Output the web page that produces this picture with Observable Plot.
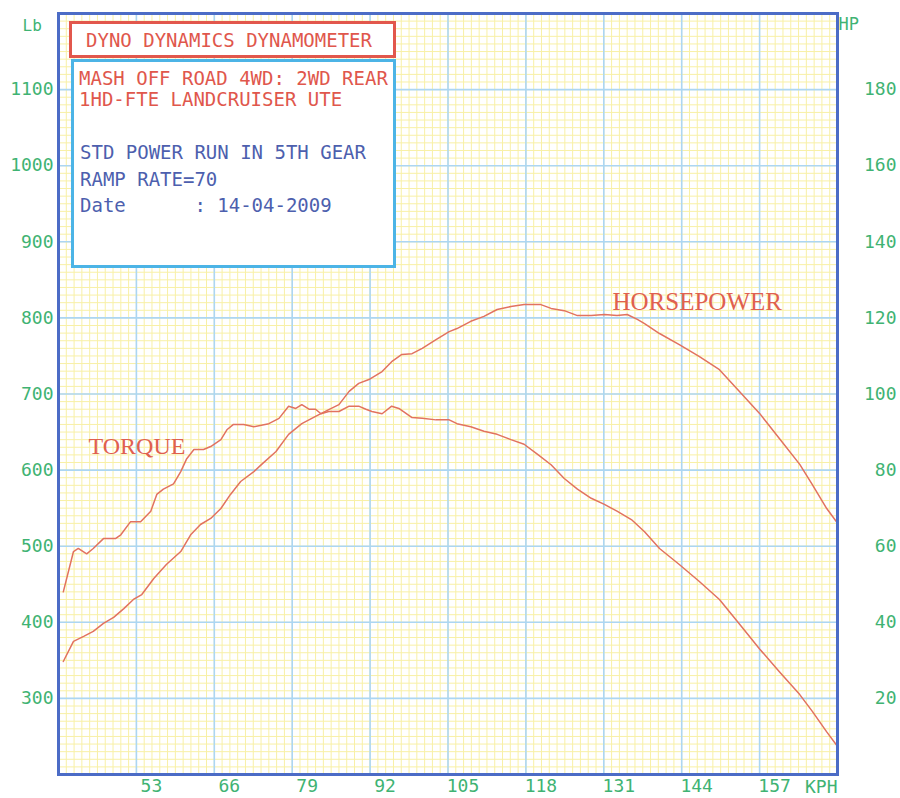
<!DOCTYPE html>
<html>
<head>
<meta charset="utf-8">
<script src="https://cdn.jsdelivr.net/npm/d3@7"></script>
<script src="https://cdn.jsdelivr.net/npm/@observablehq/plot@0.6"></script>
<style>
  body { margin: 0; background: #fff; }
  #wrap { position: relative; width: 900px; height: 798px; overflow: hidden; }
  .box { position: absolute; background: #fff; box-sizing: border-box; }
  .ln { position: absolute; font-family: "DejaVu Sans Mono", monospace; font-size: 19px; line-height: 19px; white-space: pre; }
  .red { color: #e0574c; }
  .blu { color: #4d5fae; }
</style>
</head>
<body>
<div id="wrap"></div>
<script>
// ---- data ----
const torqueKph = [40.8, 42.5, 43.3, 44.7, 45.8, 47.5, 49.5, 50.4, 52.0, 53.7, 55.4, 56.4, 57.5, 59.2, 60.4, 61.4, 62.6, 64.2, 65.4, 67.1, 68.1, 69.2, 70.9, 72.6, 75.1, 76.8, 78.4, 79.6, 80.6, 81.8, 82.9, 83.8, 85.1, 86.8, 88.5, 90.1, 91.3, 92.3, 94.0, 95.6, 96.8, 99.0, 100.7, 103.0, 105.2, 106.5, 108.8, 111.0, 113.2, 115.5, 117.7, 119.9, 122.2, 124.4, 126.6, 128.9, 131.1, 133.2, 135.6, 137.8, 140.3, 143.6, 146.9, 150.3, 153.6, 157.0, 160.3, 163.7, 165.8, 168.2, 169.8];
const torqueLb = [440, 493, 497, 490, 497, 510, 510, 515, 532, 532, 546, 568, 575, 582, 598, 615, 627, 627, 631, 640, 653, 660, 660, 657, 661, 668, 684, 681, 686, 680, 680, 674, 677, 677, 684, 684, 680, 677, 674, 684, 681, 669, 668, 666, 666, 661, 657, 651, 647, 640, 634, 621, 607, 589, 575, 563, 555, 546, 535, 519, 497, 476, 454, 430, 398, 365, 335, 305, 283, 256, 239];

const hpKph = [40.8, 42.5, 44.2, 45.8, 47.5, 49.2, 50.9, 52.5, 53.9, 55.9, 58.0, 60.4, 62.1, 63.7, 65.4, 67.1, 68.7, 70.4, 72.6, 73.9, 76.3, 78.4, 80.6, 82.9, 85.1, 86.8, 88.5, 90.1, 91.8, 94.0, 95.6, 97.3, 99.0, 100.7, 103.0, 105.2, 106.5, 108.8, 111.0, 113.2, 115.5, 117.7, 120.5, 122.2, 124.4, 126.6, 128.9, 131.1, 133.2, 134.9, 136.6, 137.8, 140.3, 143.6, 146.9, 150.3, 153.6, 157.0, 160.3, 163.7, 165.8, 168.2, 169.8];
const hpValue = [29.7, 35.0, 36.3, 37.6, 39.7, 41.3, 43.6, 46.0, 47.3, 51.5, 55.2, 58.6, 63.1, 65.7, 67.3, 69.9, 73.6, 77.0, 79.6, 81.5, 84.9, 89.4, 92.2, 94.1, 95.9, 97.2, 100.7, 102.8, 103.8, 105.9, 108.5, 110.4, 110.6, 112.0, 114.3, 116.4, 117.2, 119.1, 120.4, 122.2, 123.0, 123.5, 123.5, 122.5, 121.9, 120.6, 120.6, 120.9, 120.6, 120.9, 119.6, 118.5, 115.9, 113.0, 109.9, 106.4, 100.7, 94.9, 88.3, 81.5, 76.2, 69.9, 66.5];

const xTicks = [53, 66, 79, 92, 105, 118, 131, 144, 157];
const lbTicks = [300, 400, 500, 600, 700, 800, 900, 1000, 1100];
const hpTicks = [20, 40, 60, 80, 100, 120, 140, 160, 180];

const seriesLabels = ["TORQUE", "HORSEPOWER"];
const headerTitle = "DYNO DYNAMICS DYNAMOMETER";
const infoRed = ["MASH OFF ROAD 4WD: 2WD REAR", "1HD-FTE LANDCRUISER UTE"];
const infoBlue = ["STD POWER RUN IN 5TH GEAR", "RAMP RATE=70", "Date      : 14-04-2009"];

// ---- scales: Lb on left [200,1200], HP on right [0,200] share the grid ----
const xDomain = [40, 170];
const lbDomain = [200, 1200];
const hpToLb = h => lbDomain[0] + h * (lbDomain[1] - lbDomain[0]) / 200;
const lbToHp = v => (v - lbDomain[0]) * 200 / (lbDomain[1] - lbDomain[0]);

const torqueData = torqueKph.map((k, i) => ({k, v: torqueLb[i]}));
const hpData = hpKph.map((k, i) => ({k, v: hpToLb(hpValue[i])}));

const minorX = d3.range(0, 101).map(i => xDomain[0] + i * 1.3);
const minorY = d3.range(0, 101).map(i => lbDomain[0] + i * 10);

const green = "#3fb373";
const curve = "#e2725f";
const mono = "DejaVu Sans Mono";

const chart = Plot.plot({
  width: 900,
  height: 798,
  marginTop: 13,
  marginLeft: 58,
  marginRight: 63,
  marginBottom: 24,
  x: {domain: xDomain},
  y: {domain: lbDomain},
  style: {background: "#fff", fontFamily: mono, overflow: "visible"},
  marks: [
    Plot.gridX(minorX, {stroke: "#f8f0a6", strokeOpacity: 1, strokeWidth: 1}),
    Plot.gridY(minorY, {stroke: "#f8f0a6", strokeOpacity: 1, strokeWidth: 1}),
    Plot.gridX(xTicks, {stroke: "#acd6f3", strokeOpacity: 1, strokeWidth: 1.6}),
    Plot.gridY(lbTicks, {stroke: "#acd6f3", strokeOpacity: 1, strokeWidth: 1.6}),
    Plot.line(torqueData, {x: "k", y: "v", stroke: curve, strokeWidth: 1.5}),
    Plot.line(hpData, {x: "k", y: "v", stroke: curve, strokeWidth: 1.5}),
    Plot.frame({stroke: "#4c6cc6", strokeWidth: 3}),
    Plot.axisY(lbTicks, {anchor: "left", tickSize: 0, tickPadding: 5, tickFormat: d => String(d), color: green, fill: green, fontSize: 18, fontFamily: mono, label: null}),
    Plot.axisY(hpTicks.map(hpToLb), {anchor: "right", tickSize: 0, tickPadding: 59, textAnchor: "end", tickFormat: v => String(Math.round(lbToHp(v))), color: green, fill: green, fontSize: 18, fontFamily: mono, label: null}),
    Plot.axisX(xTicks, {anchor: "bottom", tickSize: 0, tickPadding: 5, dx: 15, tickFormat: d => String(d), color: green, fill: green, fontSize: 18, fontFamily: mono, label: null}),
    Plot.text(["Lb"], {frameAnchor: "top-left", text: d => d, textAnchor: "start", lineAnchor: "bottom", dx: -36, dy: 17, fill: green, fontSize: 16, fontFamily: mono}),
    Plot.text(["HP"], {frameAnchor: "top-right", text: d => d, textAnchor: "start", lineAnchor: "bottom", dx: 1, dy: 16, fill: green, fontSize: 17, fontFamily: mono}),
    Plot.text(["KPH"], {frameAnchor: "bottom-right", text: d => d, textAnchor: "end", lineAnchor: "bottom", dx: 0, dy: 18, fill: green, fontSize: 18, fontFamily: mono}),
    Plot.text([seriesLabels[0]], {frameAnchor: "top-left", text: d => d, textAnchor: "start", lineAnchor: "bottom", dx: 30, dy: 440, fill: "#e0604f", fontSize: 24, fontFamily: "Liberation Serif"}),
    Plot.text([seriesLabels[1]], {frameAnchor: "top-left", text: d => d, textAnchor: "start", lineAnchor: "bottom", dx: 554, dy: 296, fill: "#e0604f", fontSize: 25, fontFamily: "Liberation Serif"})
  ]
});

const wrap = document.getElementById("wrap");
wrap.appendChild(chart);

// info boxes (legend-style annotation over the chart)
function addBox(l, t, w, h, color) {
  const b = document.createElement("div");
  b.className = "box";
  Object.assign(b.style, {left: l + "px", top: t + "px", width: w + "px", height: h + "px", border: "3.5px solid " + color});
  wrap.appendChild(b);
}
function addLine(text, cls, l, baseline) {
  const s = document.createElement("div");
  s.className = "ln " + cls;
  s.textContent = text;
  Object.assign(s.style, {left: l + "px", top: (baseline - 16) + "px"});
  wrap.appendChild(s);
}
addBox(69, 21, 327, 37, "#e2574c");
addBox(71, 59, 325, 209, "#4cb4e6");
addLine(headerTitle, "red", 86, 47);
const redBase = [85, 106];
infoRed.forEach((t, i) => addLine(t, "red", 79, redBase[i]));
const bluBase = [159, 186, 212];
infoBlue.forEach((t, i) => addLine(t, "blu", 80, bluBase[i]));
</script>
</body>
</html>
